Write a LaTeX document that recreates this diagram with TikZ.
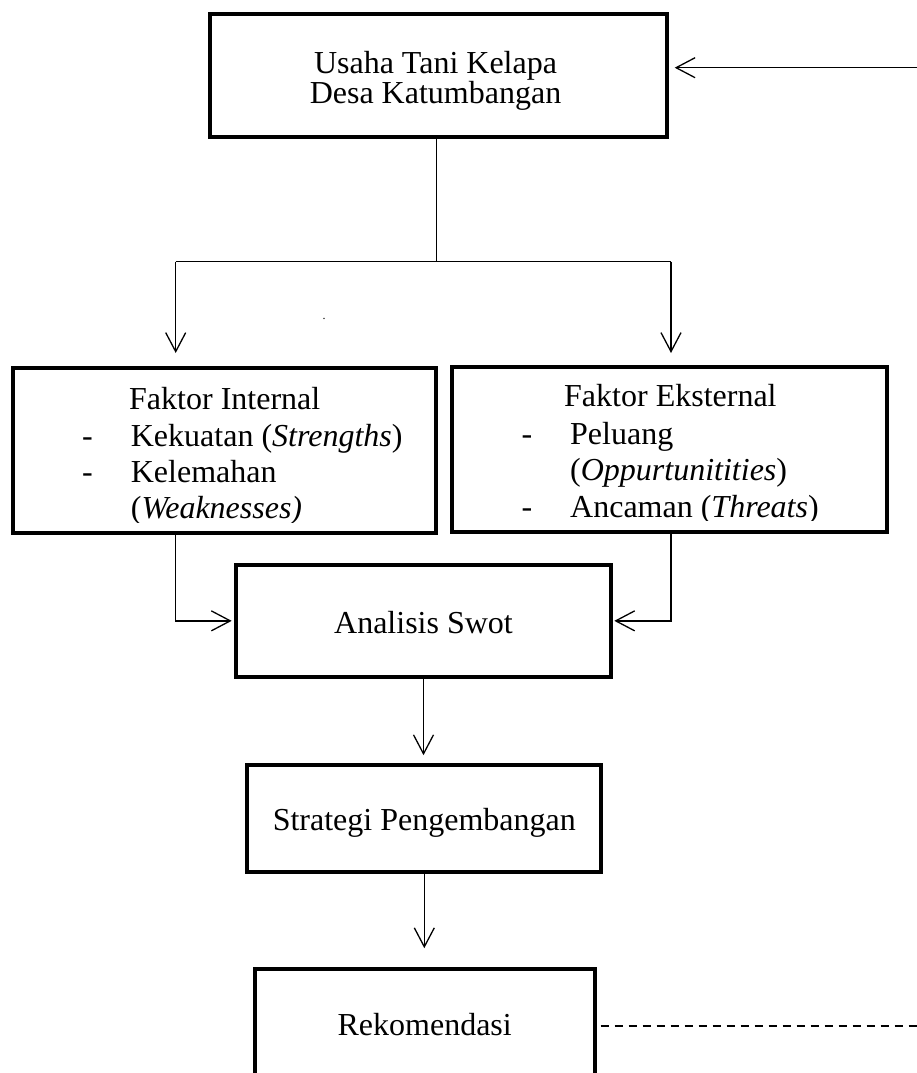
\documentclass[tikz,border=0pt]{standalone}
\usepackage{fontspec}
\setmainfont{Liberation Serif}
\usetikzlibrary{arrows.meta}
\begin{document}
\begin{tikzpicture}[x=1pt,y=-1pt,
  box/.style={draw, line width=4pt, rectangle, inner sep=0pt, font=\fontsize{32}{30}\selectfont},
  txt/.style={inner sep=0pt, font=\fontsize{32}{30}\selectfont},
  conn/.style={line width=1.3pt},
  arr/.style={conn, -{Straight Barb[length=19pt,width=20pt]}},
  dashconn/.style={line width=1.7pt, dash pattern=on 8.3pt off 5.7pt}]
\useasboundingbox (0,0) rectangle (917,1073);
\clip (0,0) rectangle (917,1073);
% boxes
\node[box, minimum width=456.7pt, minimum height=123pt] (top) at (438.35,75.2) {};
\node[txt, anchor=base] (topA) at (435.5,73.3) {Usaha Tani Kelapa};
\node[txt, anchor=base] (topB) at (435.5,103.3) {Desa Katumbangan};

\node[box, minimum width=423pt, minimum height=165.5pt] (fi) at (224,450.25) {};
\node[box, minimum width=434.7pt, minimum height=165pt] (fe) at (669.35,449.2) {};

\begin{scope}
\clip (12,367) rectangle (436,522);
\node[txt, anchor=base west] (fiA) at (129,409) {Faktor Internal};
\node[txt, anchor=base west] (fiB) at (130.7,446) {\llap{-\hspace{38pt}}Kekuatan (\textit{Strengths})};
\node[txt, anchor=base west] (fiC) at (130.7,482.7) {\llap{-\hspace{38pt}}Kelemahan};
\node[txt, anchor=base west] (fiD) at (130.7,518) {(\textit{Weaknesses)}};
\end{scope}
\begin{scope}
\clip (452,366) rectangle (886,520);
\node[txt, anchor=base west] (feA) at (564,406.7) {Faktor Eksternal};
\node[txt, anchor=base west] (feB) at (570,444) {\llap{-\hspace{38pt}}Peluang};
\node[txt, anchor=base west] (feC) at (570,480.7) {(\textit{Oppurtunitities})};
\node[txt, anchor=base west] (feD) at (570,517) {\llap{-\hspace{38pt}}Ancaman (\textit{Threats})};
\end{scope}

\node[box, minimum width=375.6pt, minimum height=111.7pt, text height=24.9pt, text depth=0pt] (swot) at (423.5,620.85) {Analisis Swot};
\node[box, minimum width=354pt, minimum height=107pt, text height=23.6pt, text depth=0pt] (strat) at (424.3,818.2) {Strategi Pengembangan};
\node[box, minimum width=340pt, minimum height=114.6pt, text height=18pt, text depth=0pt] (rekom) at (424.7,1026) {Rekomendasi};

\node[inner sep=0pt, anchor=base, font=\fontsize{12}{12}\selectfont] (dot) at (324,319) {.};

% connectors
\coordinate (arrin) at (917,67.7);
\draw[arr, shorten >=6pt] (arrin) -- (arrin -| top.east);

\coordinate (split) at (436.5,261.7);
\coordinate (lb) at (175.7,261.7);
\coordinate (rb) at (671,261.7);
\draw[conn] (top.south -| split) -- (split);
\draw[conn] (lb) -- (rb);
\draw[arr, shorten >=12.5pt] (lb) -- (lb |- fi.north);
\draw[arr, shorten >=11.7pt] (rb) -- (rb |- fe.north);

\draw[arr, shorten >=2pt] (fi.south -| lb) |- (swot.west);
\draw[arr, shorten >=1pt] (fe.south -| rb) |- (swot.east);

\draw[arr, shorten >=7.5pt] (swot.south) -- (swot.south |- strat.north);
\draw[arr, shorten >=18.5pt] (strat.south) -- (strat.south |- rekom.north);

\coordinate (dashend) at (917,1026);
\draw[dashconn, shorten <=4pt] (rekom.east) -- (dashend);
\end{tikzpicture}
\end{document}
